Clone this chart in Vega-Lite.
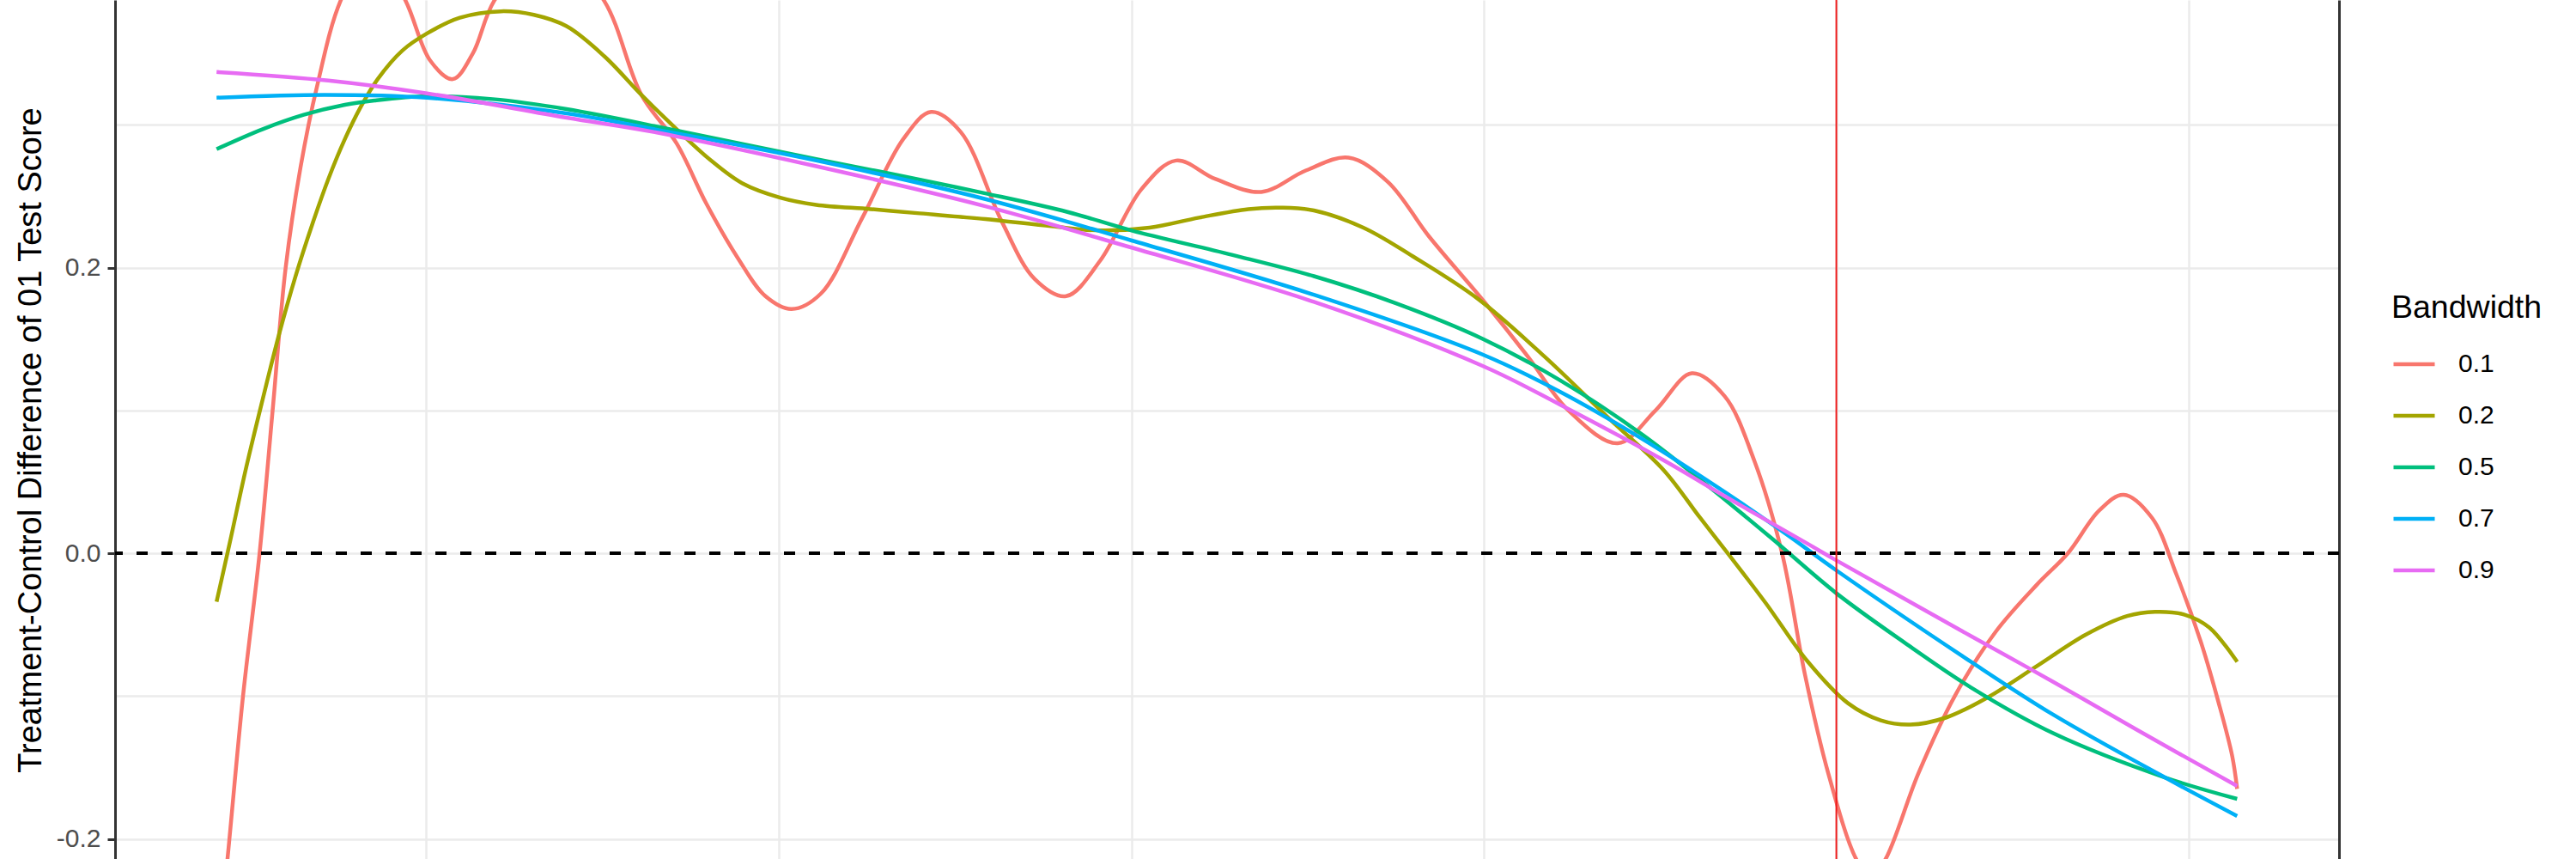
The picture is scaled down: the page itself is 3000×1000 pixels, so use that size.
{
  "$schema": "https://vega.github.io/schema/vega-lite/v6.json",
  "width": 2590,
  "height": 1000,
  "autosize": {"type": "none"},
  "padding": {"left": 134, "top": 0, "right": 276, "bottom": 0},
  "background": "white",
  "config": {
    "view": {"stroke": null},
    "font": "Liberation Sans",
    "axis": {"labelFont": "Liberation Sans", "titleFont": "Liberation Sans"},
    "legend": {"labelFont": "Liberation Sans", "titleFont": "Liberation Sans"}
  },
  "datasets": {
    "curves": [
      {"bw": "0.1", "x": -4.595, "y": -0.29},
      {"bw": "0.1", "x": -4.564, "y": -0.214},
      {"bw": "0.1", "x": -4.520, "y": -0.10},
      {"bw": "0.1", "x": -4.473, "y": 0.0},
      {"bw": "0.1", "x": -4.436, "y": 0.10},
      {"bw": "0.1", "x": -4.399, "y": 0.20},
      {"bw": "0.1", "x": -4.357, "y": 0.27},
      {"bw": "0.1", "x": -4.310, "y": 0.327},
      {"bw": "0.1", "x": -4.243, "y": 0.387},
      {"bw": "0.1", "x": -4.152, "y": 0.425},
      {"bw": "0.1", "x": -4.059, "y": 0.387},
      {"bw": "0.1", "x": -3.989, "y": 0.345},
      {"bw": "0.1", "x": -3.925, "y": 0.332},
      {"bw": "0.1", "x": -3.868, "y": 0.350},
      {"bw": "0.1", "x": -3.807, "y": 0.387},
      {"bw": "0.1", "x": -3.653, "y": 0.43},
      {"bw": "0.1", "x": -3.496, "y": 0.387},
      {"bw": "0.1", "x": -3.390, "y": 0.321},
      {"bw": "0.1", "x": -3.290, "y": 0.287},
      {"bw": "0.1", "x": -3.206, "y": 0.245},
      {"bw": "0.1", "x": -3.117, "y": 0.207},
      {"bw": "0.1", "x": -3.038, "y": 0.180},
      {"bw": "0.1", "x": -2.964, "y": 0.171},
      {"bw": "0.1", "x": -2.880, "y": 0.182},
      {"bw": "0.1", "x": -2.763, "y": 0.235},
      {"bw": "0.1", "x": -2.647, "y": 0.290},
      {"bw": "0.1", "x": -2.568, "y": 0.309},
      {"bw": "0.1", "x": -2.484, "y": 0.295},
      {"bw": "0.1", "x": -2.367, "y": 0.232},
      {"bw": "0.1", "x": -2.274, "y": 0.192},
      {"bw": "0.1", "x": -2.185, "y": 0.180},
      {"bw": "0.1", "x": -2.088, "y": 0.205},
      {"bw": "0.1", "x": -1.971, "y": 0.255},
      {"bw": "0.1", "x": -1.873, "y": 0.275},
      {"bw": "0.1", "x": -1.761, "y": 0.262},
      {"bw": "0.1", "x": -1.631, "y": 0.253},
      {"bw": "0.1", "x": -1.505, "y": 0.268},
      {"bw": "0.1", "x": -1.384, "y": 0.277},
      {"bw": "0.1", "x": -1.272, "y": 0.260},
      {"bw": "0.1", "x": -1.156, "y": 0.222},
      {"bw": "0.1", "x": -1.002, "y": 0.177},
      {"bw": "0.1", "x": -0.876, "y": 0.138},
      {"bw": "0.1", "x": -0.760, "y": 0.100},
      {"bw": "0.1", "x": -0.620, "y": 0.077},
      {"bw": "0.1", "x": -0.513, "y": 0.100},
      {"bw": "0.1", "x": -0.410, "y": 0.126},
      {"bw": "0.1", "x": -0.317, "y": 0.110},
      {"bw": "0.1", "x": -0.233, "y": 0.065},
      {"bw": "0.1", "x": -0.154, "y": 0.0},
      {"bw": "0.1", "x": -0.089, "y": -0.085},
      {"bw": "0.1", "x": -0.023, "y": -0.154},
      {"bw": "0.1", "x": 0.056, "y": -0.214},
      {"bw": "0.1", "x": 0.098, "y": -0.228},
      {"bw": "0.1", "x": 0.140, "y": -0.214},
      {"bw": "0.1", "x": 0.233, "y": -0.154},
      {"bw": "0.1", "x": 0.336, "y": -0.10},
      {"bw": "0.1", "x": 0.452, "y": -0.055},
      {"bw": "0.1", "x": 0.569, "y": -0.022},
      {"bw": "0.1", "x": 0.657, "y": 0.0},
      {"bw": "0.1", "x": 0.746, "y": 0.030},
      {"bw": "0.1", "x": 0.815, "y": 0.041},
      {"bw": "0.1", "x": 0.895, "y": 0.025},
      {"bw": "0.1", "x": 0.965, "y": -0.015},
      {"bw": "0.1", "x": 1.034, "y": -0.062},
      {"bw": "0.1", "x": 1.086, "y": -0.106},
      {"bw": "0.1", "x": 1.123, "y": -0.142},
      {"bw": "0.1", "x": 1.137, "y": -0.165},

      {"bw": "0.2", "x": -4.595, "y": -0.034},
      {"bw": "0.2", "x": -4.557, "y": 0.008},
      {"bw": "0.2", "x": -4.511, "y": 0.060},
      {"bw": "0.2", "x": -4.464, "y": 0.108},
      {"bw": "0.2", "x": -4.418, "y": 0.153},
      {"bw": "0.2", "x": -4.371, "y": 0.194},
      {"bw": "0.2", "x": -4.324, "y": 0.230},
      {"bw": "0.2", "x": -4.278, "y": 0.262},
      {"bw": "0.2", "x": -4.231, "y": 0.290},
      {"bw": "0.2", "x": -4.185, "y": 0.313},
      {"bw": "0.2", "x": -4.138, "y": 0.332},
      {"bw": "0.2", "x": -4.068, "y": 0.352},
      {"bw": "0.2", "x": -3.998, "y": 0.364},
      {"bw": "0.2", "x": -3.905, "y": 0.375},
      {"bw": "0.2", "x": -3.788, "y": 0.3795},
      {"bw": "0.2", "x": -3.695, "y": 0.377},
      {"bw": "0.2", "x": -3.602, "y": 0.369},
      {"bw": "0.2", "x": -3.495, "y": 0.348},
      {"bw": "0.2", "x": -3.390, "y": 0.321},
      {"bw": "0.2", "x": -3.290, "y": 0.297},
      {"bw": "0.2", "x": -3.197, "y": 0.276},
      {"bw": "0.2", "x": -3.103, "y": 0.259},
      {"bw": "0.2", "x": -2.996, "y": 0.249},
      {"bw": "0.2", "x": -2.894, "y": 0.244},
      {"bw": "0.2", "x": -2.740, "y": 0.241},
      {"bw": "0.2", "x": -2.600, "y": 0.238},
      {"bw": "0.2", "x": -2.414, "y": 0.234},
      {"bw": "0.2", "x": -2.227, "y": 0.229},
      {"bw": "0.2", "x": -2.088, "y": 0.226},
      {"bw": "0.2", "x": -1.948, "y": 0.228},
      {"bw": "0.2", "x": -1.808, "y": 0.235},
      {"bw": "0.2", "x": -1.668, "y": 0.241},
      {"bw": "0.2", "x": -1.575, "y": 0.242},
      {"bw": "0.2", "x": -1.482, "y": 0.240},
      {"bw": "0.2", "x": -1.342, "y": 0.228},
      {"bw": "0.2", "x": -1.202, "y": 0.208},
      {"bw": "0.2", "x": -1.016, "y": 0.178},
      {"bw": "0.2", "x": -0.829, "y": 0.138},
      {"bw": "0.2", "x": -0.643, "y": 0.094},
      {"bw": "0.2", "x": -0.489, "y": 0.058},
      {"bw": "0.2", "x": -0.387, "y": 0.025},
      {"bw": "0.2", "x": -0.308, "y": 0.0},
      {"bw": "0.2", "x": -0.200, "y": -0.035},
      {"bw": "0.2", "x": -0.084, "y": -0.075},
      {"bw": "0.2", "x": 0.033, "y": -0.105},
      {"bw": "0.2", "x": 0.126, "y": -0.117},
      {"bw": "0.2", "x": 0.210, "y": -0.120},
      {"bw": "0.2", "x": 0.312, "y": -0.115},
      {"bw": "0.2", "x": 0.429, "y": -0.101},
      {"bw": "0.2", "x": 0.569, "y": -0.079},
      {"bw": "0.2", "x": 0.708, "y": -0.057},
      {"bw": "0.2", "x": 0.825, "y": -0.044},
      {"bw": "0.2", "x": 0.904, "y": -0.041},
      {"bw": "0.2", "x": 0.988, "y": -0.043},
      {"bw": "0.2", "x": 1.058, "y": -0.052},
      {"bw": "0.2", "x": 1.137, "y": -0.076},

      {"bw": "0.5", "x": -4.595, "y": 0.283},
      {"bw": "0.5", "x": -4.464, "y": 0.297},
      {"bw": "0.5", "x": -4.348, "y": 0.307},
      {"bw": "0.5", "x": -4.231, "y": 0.314},
      {"bw": "0.5", "x": -4.147, "y": 0.317},
      {"bw": "0.5", "x": -3.998, "y": 0.320},
      {"bw": "0.5", "x": -3.812, "y": 0.318},
      {"bw": "0.5", "x": -3.602, "y": 0.311},
      {"bw": "0.5", "x": -3.290, "y": 0.296},
      {"bw": "0.5", "x": -2.894, "y": 0.276},
      {"bw": "0.5", "x": -2.647, "y": 0.264},
      {"bw": "0.5", "x": -2.414, "y": 0.252},
      {"bw": "0.5", "x": -2.181, "y": 0.239},
      {"bw": "0.5", "x": -1.999, "y": 0.226},
      {"bw": "0.5", "x": -1.715, "y": 0.209},
      {"bw": "0.5", "x": -1.482, "y": 0.194},
      {"bw": "0.5", "x": -1.249, "y": 0.175},
      {"bw": "0.5", "x": -1.002, "y": 0.150},
      {"bw": "0.5", "x": -0.783, "y": 0.121},
      {"bw": "0.5", "x": -0.550, "y": 0.083},
      {"bw": "0.5", "x": -0.363, "y": 0.047},
      {"bw": "0.5", "x": -0.186, "y": 0.011},
      {"bw": "0.5", "x": 0.0, "y": -0.028},
      {"bw": "0.5", "x": 0.196, "y": -0.063},
      {"bw": "0.5", "x": 0.382, "y": -0.094},
      {"bw": "0.5", "x": 0.615, "y": -0.126},
      {"bw": "0.5", "x": 0.932, "y": -0.157},
      {"bw": "0.5", "x": 1.137, "y": -0.172},

      {"bw": "0.7", "x": -4.595, "y": 0.319},
      {"bw": "0.7", "x": -4.287, "y": 0.321},
      {"bw": "0.7", "x": -3.998, "y": 0.319},
      {"bw": "0.7", "x": -3.602, "y": 0.308},
      {"bw": "0.7", "x": -3.355, "y": 0.297},
      {"bw": "0.7", "x": -2.894, "y": 0.275},
      {"bw": "0.7", "x": -2.414, "y": 0.248},
      {"bw": "0.7", "x": -1.999, "y": 0.219},
      {"bw": "0.7", "x": -1.482, "y": 0.181},
      {"bw": "0.7", "x": -1.002, "y": 0.139},
      {"bw": "0.7", "x": -0.783, "y": 0.113},
      {"bw": "0.7", "x": -0.550, "y": 0.080},
      {"bw": "0.7", "x": -0.317, "y": 0.043},
      {"bw": "0.7", "x": -0.140, "y": 0.013},
      {"bw": "0.7", "x": 0.0, "y": -0.012},
      {"bw": "0.7", "x": 0.382, "y": -0.076},
      {"bw": "0.7", "x": 0.615, "y": -0.113},
      {"bw": "0.7", "x": 0.932, "y": -0.157},
      {"bw": "0.7", "x": 1.137, "y": -0.184},

      {"bw": "0.9", "x": -4.595, "y": 0.337},
      {"bw": "0.9", "x": -4.278, "y": 0.331},
      {"bw": "0.9", "x": -3.998, "y": 0.322},
      {"bw": "0.9", "x": -3.602, "y": 0.305},
      {"bw": "0.9", "x": -3.355, "y": 0.295},
      {"bw": "0.9", "x": -2.894, "y": 0.271},
      {"bw": "0.9", "x": -2.414, "y": 0.243},
      {"bw": "0.9", "x": -1.999, "y": 0.214},
      {"bw": "0.9", "x": -1.482, "y": 0.176},
      {"bw": "0.9", "x": -1.002, "y": 0.131},
      {"bw": "0.9", "x": -0.783, "y": 0.104},
      {"bw": "0.9", "x": -0.489, "y": 0.065},
      {"bw": "0.9", "x": -0.317, "y": 0.040},
      {"bw": "0.9", "x": -0.084, "y": 0.007},
      {"bw": "0.9", "x": 0.0, "y": -0.005},
      {"bw": "0.9", "x": 0.382, "y": -0.058},
      {"bw": "0.9", "x": 0.615, "y": -0.090},
      {"bw": "0.9", "x": 0.848, "y": -0.123},
      {"bw": "0.9", "x": 1.137, "y": -0.163}
    ]
  },
  "layer": [
    {
      "data": {"name": "curves"},
      "mark": {"type": "line", "strokeWidth": 4.5, "interpolate": "catmull-rom", "clip": true},
      "encoding": {
        "x": {
          "field": "x", "type": "quantitative",
          "scale": {"domain": [-4.883, 1.426], "nice": false, "zero": false},
          "axis": {"values": [-4, -3, -2, -1, 0, 1], "grid": true, "gridColor": "#ebebeb", "gridWidth": 2.5,
                   "labels": false, "ticks": false, "domain": false, "title": null}
        },
        "y": {
          "field": "y", "type": "quantitative",
          "scale": {"domain": [-0.2141, 0.3874], "nice": false, "zero": false},
          "axis": {
            "values": [-0.2, -0.1, 0, 0.1, 0.2, 0.3],
            "grid": true, "gridColor": "#ebebeb", "gridWidth": 2.5,
            "labelExpr": "abs(round(datum.value*10)) % 2 == 1 ? '' : (datum.value < -0.0001 ? '-' + format(-datum.value, '.1f') : format(abs(datum.value), '.1f'))",
            "labelFontSize": 30, "labelColor": "#4d4d4d", "labelPadding": 8,
            "tickSize": 9, "tickWidth": 3, "tickColor": "#333333",
            "tickOpacity": {"condition": {"test": "abs(round(datum.value*10)) % 2 == 1", "value": 0}, "value": 1},
            "domain": true, "domainColor": "#333333", "domainWidth": 3,
            "title": "Treatment-Control Difference of 01 Test Score",
            "titleFontSize": 38, "titleColor": "black", "titleFontWeight": "normal",
            "titleAngle": 270, "titleX": -87, "titleY": 512, "titleAlign": "center", "titleBaseline": "alphabetic"
          }
        },
        "color": {
          "field": "bw", "type": "nominal",
          "scale": {"domain": ["0.1", "0.2", "0.5", "0.7", "0.9"],
                    "range": ["#F8766D", "#A3A500", "#00BF7D", "#00B0F6", "#E76BF3"]},
          "legend": {
            "title": "Bandwidth", "orient": "none", "legendX": 2651, "legendY": 340, "padding": 0,
            "symbolType": "stroke", "symbolSize": 2304, "symbolStrokeWidth": 4.5,
            "labelFontSize": 30, "labelColor": "black", "labelOffset": 25,
            "titleFontSize": 37.5, "titleColor": "black", "titleFontWeight": "normal", "titlePadding": 20,
            "rowPadding": 18
          }
        }
      }
    },
    {
      "data": {"values": [{"y": 0}]},
      "mark": {"type": "rule", "strokeDash": [13, 16], "strokeWidth": 4, "color": "black"},
      "encoding": {
        "y": {"field": "y", "type": "quantitative",
              "axis": {"orient": "right", "labels": false, "ticks": false, "grid": false,
                       "domain": true, "domainColor": "#333333", "domainWidth": 3, "title": null}}
      }
    },
    {
      "data": {"values": [{"x": 0}]},
      "mark": {"type": "rule", "strokeWidth": 2, "color": "#ee1c1c"},
      "encoding": {
        "x": {"field": "x", "type": "quantitative"}
      }
    }
  ],
  "resolve": {"axis": {"y": "independent"}}
}
